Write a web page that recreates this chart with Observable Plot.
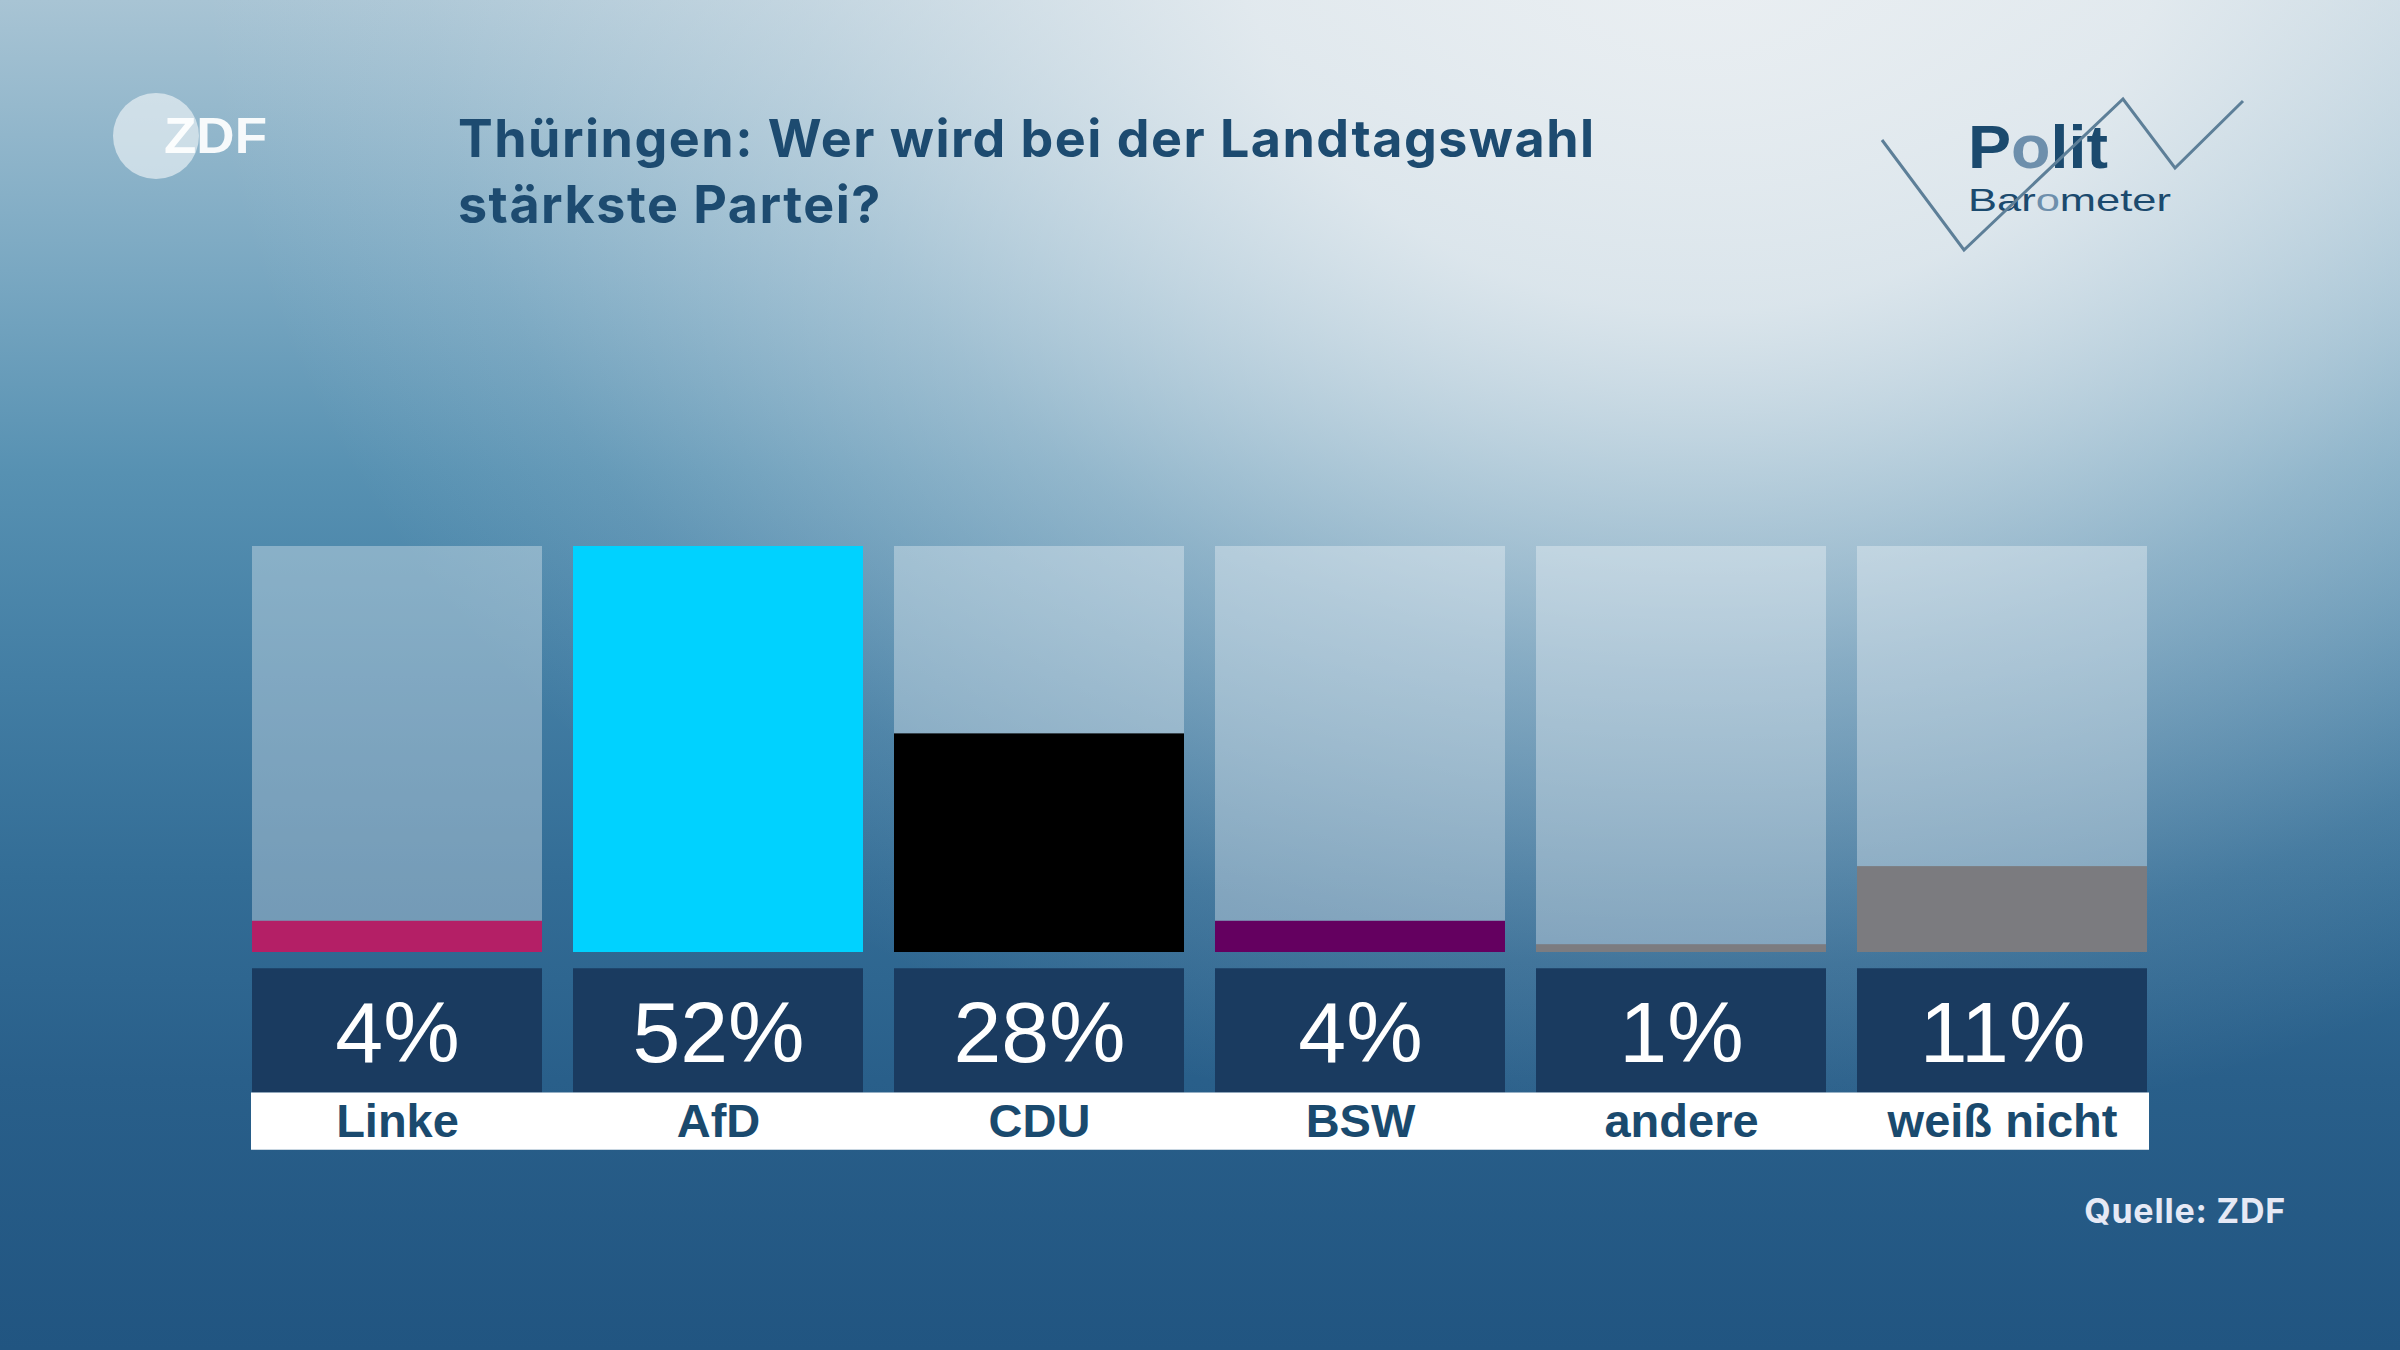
<!DOCTYPE html>
<html>
<head>
<meta charset="utf-8">
<script src="https://cdn.jsdelivr.net/npm/d3@7"></script>
<script src="https://cdn.jsdelivr.net/npm/@observablehq/plot@0.6"></script>
<style>
  html, body { margin: 0; padding: 0; }
  #stage {
    position: relative; width: 2400px; height: 1350px; overflow: hidden;
    font-family: "Liberation Sans", Arial, sans-serif;
    background:
      radial-gradient(ellipse 1500px 1200px at 1700px -50px,
        rgba(236,240,243,0.97) 0%, rgba(236,240,243,0.85) 30%, rgba(236,240,243,0.4) 60%,
        rgba(236,240,243,0.1) 85%, rgba(236,240,243,0) 100%),
      linear-gradient(180deg, #a8c4d4 0%, #7aa8c2 20%, #5791b2 35%, #437ea4 50%, #336d96 65%, #295f8a 80%, #215581 100%);
  }
  #title {
    position: absolute; left: 458px; top: 106px; margin: 0;
    font-family: Inter, "Liberation Sans", sans-serif;
    font-size: 52px; line-height: 66px; font-weight: 700; color: #1d4b70; letter-spacing: 1.5px;
  }
  #source {
    position: absolute; right: 114px; top: 1194px; margin: 0;
    font-family: Inter, "Liberation Sans", sans-serif;
    font-size: 34px; line-height: 34px; font-weight: 700; color: #e6e9f5; letter-spacing: 0.8px;
  }
  #chart { position: absolute; left: 0; top: 0; }
  #logos { position: absolute; left: 0; top: 0; pointer-events: none; }
</style>
</head>
<body>
<div id="stage">
  <svg id="logos" width="2400" height="1350" font-family="Liberation Sans, Arial, sans-serif">
    <circle cx="156" cy="136" r="43" fill="white" fill-opacity="0.55"></circle>
    <text x="164" y="153" font-size="50" font-weight="700" fill="white" fill-opacity="0.92" textLength="103" lengthAdjust="spacingAndGlyphs">ZDF</text>
    <text x="1968" y="168" font-size="62" font-weight="700" fill="#1b4a6e" textLength="140" lengthAdjust="spacingAndGlyphs">P<tspan fill="#6d8fac">o</tspan>lit</text>
    <text x="1968" y="210.5" font-size="32" fill="#1b4a6e" textLength="203" lengthAdjust="spacingAndGlyphs">Bar<tspan fill="#6d8fac">o</tspan>meter</text>
    <polyline points="1882,140 1964,250 2123,99 2175,168 2243,101" fill="none" stroke="#5d7f98" stroke-width="3"></polyline>
  </svg>
  <h1 id="title">Thüringen: Wer wird bei der Landtagswahl<br>stärkste Partei?</h1>
  <div id="chart"></div>
  <p id="source">Quelle: ZDF</p>
</div>
<script>
const parties = ["Linke", "AfD", "CDU", "BSW", "andere", "weiß nicht"];
const shares = [4, 52, 28, 4, 1, 11];
const partyColors = ["#b41f66", "#00d2ff", "#000000", "#640060", "#7c7c80", "#7b7b7f"];

const data = parties.map((p, i) => ({party: p, share: shares[i], color: partyColors[i]}));
const yMax = d3.max(shares);

const chart = Plot.plot({
  width: 2400,
  height: 1350,
  marginLeft: 251,
  marginRight: 251,
  marginTop: 546,
  marginBottom: 398,
  style: {background: "transparent", fontFamily: "Liberation Sans, Arial, sans-serif"},
  x: {domain: parties, type: "band", paddingInner: 0.096, paddingOuter: 0, axis: null},
  y: {domain: [0, yMax], axis: null},
  color: {type: "identity"},
  marks: [
    Plot.barY(data, {x: "party", y: () => yMax, fill: "white", fillOpacity: 0.33}),
    Plot.barY(data, {x: "party", y: "share", fill: "color"}),
    Plot.tickY(data, {x: "party", y: () => 0, dy: 77.85, stroke: "#1a3b60", strokeWidth: 124.3}),
    Plot.ruleY([0], {dy: 168.65, stroke: "white", strokeWidth: 57.3}),
    Plot.text(data, {x: "party", y: () => 0, dy: 109.7, text: d => d.share + "%", lineAnchor: "bottom", fill: "white", fontSize: 86}),
    Plot.text(data, {x: "party", y: () => 0, dy: 184.7, text: "party", lineAnchor: "bottom", fill: "#1a4a6e", fontSize: 47, fontWeight: "bold"})
  ]
});
document.getElementById("chart").appendChild(chart);
</script>
</body>
</html>
